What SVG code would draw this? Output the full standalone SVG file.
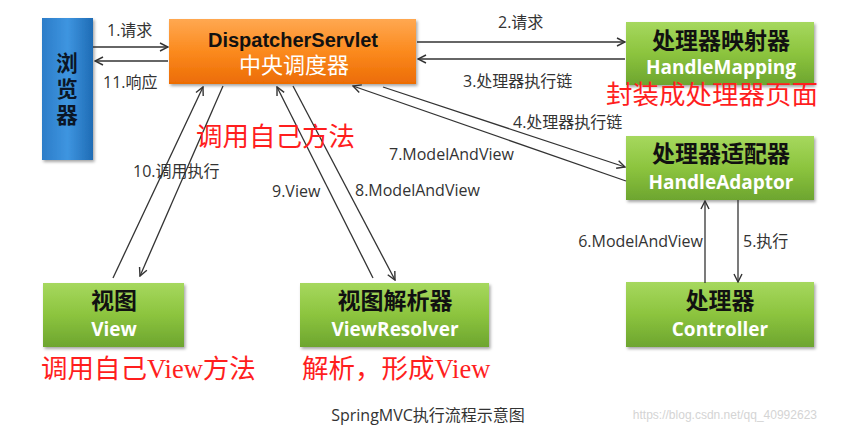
<svg xmlns="http://www.w3.org/2000/svg" width="854" height="428" viewBox="0 0 854 428">
<defs>
<linearGradient id="gOr" x1="0" y1="0" x2="0" y2="1"><stop offset="0" stop-color="#FFA851"/><stop offset="0.5" stop-color="#FB8A1E"/><stop offset="1" stop-color="#EC6C05"/></linearGradient>
<linearGradient id="gGr" x1="0" y1="0" x2="0" y2="1"><stop offset="0" stop-color="#A6D85E"/><stop offset="0.5" stop-color="#8CC43E"/><stop offset="1" stop-color="#6DA52F"/></linearGradient>
<linearGradient id="gBl" x1="0" y1="0" x2="1" y2="0"><stop offset="0" stop-color="#2C7CC8"/><stop offset="0.5" stop-color="#3E95E0"/><stop offset="1" stop-color="#1F6CB5"/></linearGradient>
<filter id="sh" x="-10%" y="-10%" width="125%" height="130%"><feDropShadow dx="1.5" dy="2" stdDeviation="1.5" flood-color="#000" flood-opacity="0.35"/></filter>
<marker id="ah" markerWidth="10" markerHeight="10" refX="9" refY="5" orient="auto" markerUnits="userSpaceOnUse"><path d="M1,1 L9,5 L1,9" fill="none" stroke="#333" stroke-width="1.4"/></marker>
</defs>
<style>
.cn{stroke:#333;stroke-width:1.3;fill:none}
.ar{marker-end:url(#ah)}
.lb{font-family:"Open Sans","Noto Sans CJK SC",sans-serif;font-size:16px;fill:#333}
.t1{font-family:"Liberation Sans","Noto Sans CJK SC",sans-serif;font-weight:bold;fill:#111;text-anchor:middle}
.t2{font-family:"Open Sans","Noto Sans CJK SC",sans-serif;font-weight:bold;fill:#fff;text-anchor:middle}
.red{font-family:"Liberation Serif","Noto Sans CJK SC",serif;font-size:26.5px;fill:#FF1E1E}
.bw{font-family:"Noto Sans CJK SC",sans-serif;font-weight:bold;font-size:21.5px;fill:#0b1626;text-anchor:middle;writing-mode:vertical-rl;letter-spacing:4.5px}
</style>
<rect width="854" height="428" fill="#fff"/>

<g id="browser"><rect x="42" y="18" width="51" height="142" fill="url(#gBl)" filter="url(#sh)"/>
<text class="bw" x="67" y="91">浏览器</text></g>

<g id="dispatcher"><rect x="169" y="19" width="247" height="65" fill="url(#gOr)" filter="url(#sh)"/>
<text class="t1" x="293" y="47" font-size="20">DispatcherServlet</text>
<text class="t2" x="294" y="73" font-size="22" style="font-weight:normal">中央调度器</text></g>

<g id="handlemapping"><rect x="626" y="22" width="188" height="63" fill="url(#gGr)" filter="url(#sh)"/>
<text class="t1" x="721" y="49" font-size="23">处理器映射器</text>
<text class="t2" x="721" y="74" font-size="19">HandleMapping</text></g>

<g id="handleadaptor"><rect x="626" y="136" width="188" height="64" fill="url(#gGr)" filter="url(#sh)"/>
<text class="t1" x="721" y="162" font-size="23">处理器适配器</text>
<text class="t2" x="721" y="189" font-size="19">HandleAdaptor</text></g>

<g id="controller"><rect x="626" y="282" width="188" height="65" fill="url(#gGr)" filter="url(#sh)"/>
<text class="t1" x="720" y="309" font-size="23">处理器</text>
<text class="t2" x="720" y="336" font-size="19">Controller</text></g>

<g id="view"><rect x="43" y="283" width="141" height="64" fill="url(#gGr)" filter="url(#sh)"/>
<text class="t1" x="114" y="309" font-size="23">视图</text>
<text class="t2" x="114" y="336" font-size="19">View</text></g>

<g id="viewresolver"><rect x="300" y="283" width="189" height="64" fill="url(#gGr)" filter="url(#sh)"/>
<text class="t1" x="395" y="309" font-size="23">视图解析器</text>
<text class="t2" x="395" y="336" font-size="19">ViewResolver</text></g>

<g id="connectors">
<line class="cn ar" x1="93" y1="47" x2="168" y2="47"/>
<line class="cn ar" x1="168" y1="61" x2="95" y2="61"/>
<line class="cn ar" x1="417" y1="42" x2="625" y2="42"/>
<line class="cn ar" x1="625" y1="59" x2="418" y2="59"/>
<line class="cn ar" x1="383" y1="87" x2="625" y2="167"/>
<line class="cn ar" x1="626" y1="181" x2="353" y2="86"/>
<line class="cn ar" x1="738" y1="200" x2="738" y2="282"/>
<line class="cn ar" x1="705" y1="283" x2="705" y2="201"/>
<line class="cn ar" x1="293" y1="86" x2="395" y2="280"/>
<line class="cn ar" x1="373" y1="278" x2="277" y2="87"/>
<line class="cn ar" x1="113" y1="278" x2="203" y2="87"/>
<line class="cn ar" x1="223" y1="86" x2="140" y2="276"/>
</g>

<g id="labels">
<text class="lb" x="107" y="36">1.请求</text>
<text class="lb" x="103" y="88">11.响应</text>
<text class="lb" x="498" y="28">2.请求</text>
<text class="lb" x="463" y="87">3.处理器执行链</text>
<text class="lb" x="513" y="128">4.处理器执行链</text>
<text class="lb" x="389" y="160">7.ModelAndView</text>
<text class="lb" x="133" y="177">10.调用执行</text>
<text class="lb" x="272" y="197">9.View</text>
<text class="lb" x="355" y="196">8.ModelAndView</text>
<text class="lb" x="703" y="247" text-anchor="end">6.ModelAndView</text>
<text class="lb" x="743" y="247">5.执行</text>
</g>

<g id="notes">
<text class="red" x="196" y="146">调用自己方法</text>
<text class="red" x="606" y="104">封装成处理器页面</text>
<text class="red" x="41" y="378">调用自己View方法</text>
<text class="red" x="302" y="378">解析，形成View</text>
</g>

<text x="428" y="421" text-anchor="middle" font-family="Open Sans,Noto Sans CJK SC,sans-serif" font-size="16" fill="#333">SpringMVC执行流程示意图</text>
<text x="817" y="419" text-anchor="end" font-family="Liberation Sans,sans-serif" font-size="12" fill="#d4d4d4">https://blog.csdn.net/qq_40992623</text>
</svg>
